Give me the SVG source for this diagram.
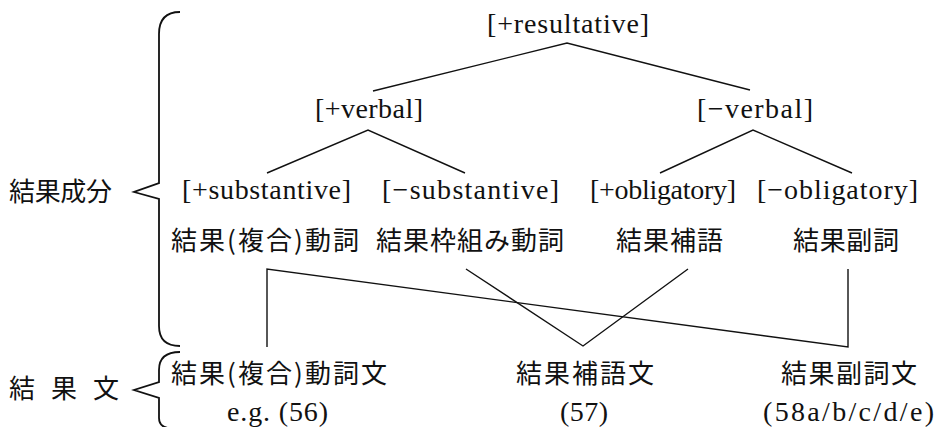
<svg xmlns="http://www.w3.org/2000/svg" width="941" height="427" viewBox="0 0 941 427">
<style>
.lat{font-family:"Liberation Serif","Times New Roman",serif;font-size:28px;fill:#111}
.jp{font-family:"Noto Sans CJK JP","Noto Sans",sans-serif;font-size:26px;fill:#111}
.ln{fill:none;stroke:#111;stroke-width:1.4;stroke-linejoin:miter}
.br{fill:none;stroke:#111;stroke-width:1.8;stroke-linejoin:miter}
</style>
<rect width="941" height="427" fill="#fff"/>
<g id="braces">
<path class="br" d="M180,12 C166,12 159,20 159,34 L159,183 L134,192 L159,199 L159,326 C159,340 166,346 180,346"/>
<path class="br" d="M180,352 C166,352 159,358 159,370 L159,382 L134,390 L159,398 L159,418 C159,424 162,427 168,428"/>
</g>
<g id="label-kekka-seibun"><text class="jp" x="9" y="201" textLength="103" lengthAdjust="spacing">結果成分</text></g>
<g id="label-kekka-bun"><text class="jp" x="9" y="398" textLength="110" lengthAdjust="spacing">結 果 文</text></g>
<g id="n-resultative"><text class="lat" x="487" y="33" textLength="162" lengthAdjust="spacing">[+resultative]</text></g>
<g id="n-plus-verbal"><text class="lat" x="315" y="118" textLength="108" lengthAdjust="spacing">[+verbal]</text></g>
<g id="n-minus-verbal"><text class="lat" x="697" y="118" textLength="116" lengthAdjust="spacing">[−verbal]</text></g>
<g id="n-plus-substantive"><text class="lat" x="182" y="199" textLength="169" lengthAdjust="spacing">[+substantive]</text><text class="jp" x="171" y="250" textLength="188" lengthAdjust="spacing">結果(複合)動詞</text></g>
<g id="n-minus-substantive"><text class="lat" x="382" y="199" textLength="177" lengthAdjust="spacing">[−substantive]</text><text class="jp" x="376" y="250" textLength="188" lengthAdjust="spacing">結果枠組み動詞</text></g>
<g id="n-plus-obligatory"><text class="lat" x="590" y="199" textLength="146" lengthAdjust="spacing">[+obligatory]</text><text class="jp" x="616" y="250" textLength="107" lengthAdjust="spacing">結果補語</text></g>
<g id="n-minus-obligatory"><text class="lat" x="757" y="199" textLength="161" lengthAdjust="spacing">[−obligatory]</text><text class="jp" x="793" y="250" textLength="106" lengthAdjust="spacing">結果副詞</text></g>
<g id="s-verb-sentence"><text class="jp" x="171" y="383" textLength="216" lengthAdjust="spacing">結果(複合)動詞文</text><text class="lat" x="227" y="421" textLength="101" lengthAdjust="spacing">e.g. (56)</text></g>
<g id="s-complement-sentence"><text class="jp" x="516" y="383" textLength="138" lengthAdjust="spacing">結果補語文</text><text class="lat" x="560" y="421" textLength="48" lengthAdjust="spacing">(57)</text></g>
<g id="s-adverb-sentence"><text class="jp" x="781" y="383" textLength="136" lengthAdjust="spacing">結果副詞文</text><text class="lat" x="763" y="421" textLength="171" lengthAdjust="spacing">(58a/b/c/d/e)</text></g>
<g id="connectors">
<polyline class="ln" points="373,91 567,43 750,90"/>
<polyline class="ln" points="267,173 368,130 465,173"/>
<polyline class="ln" points="660,173 753,130 852,173"/>
<polyline class="ln" points="267,347 267,269 848,347 848,269"/>
<polyline class="ln" points="466,269 583,346 688,269"/>
</g>
</svg>
